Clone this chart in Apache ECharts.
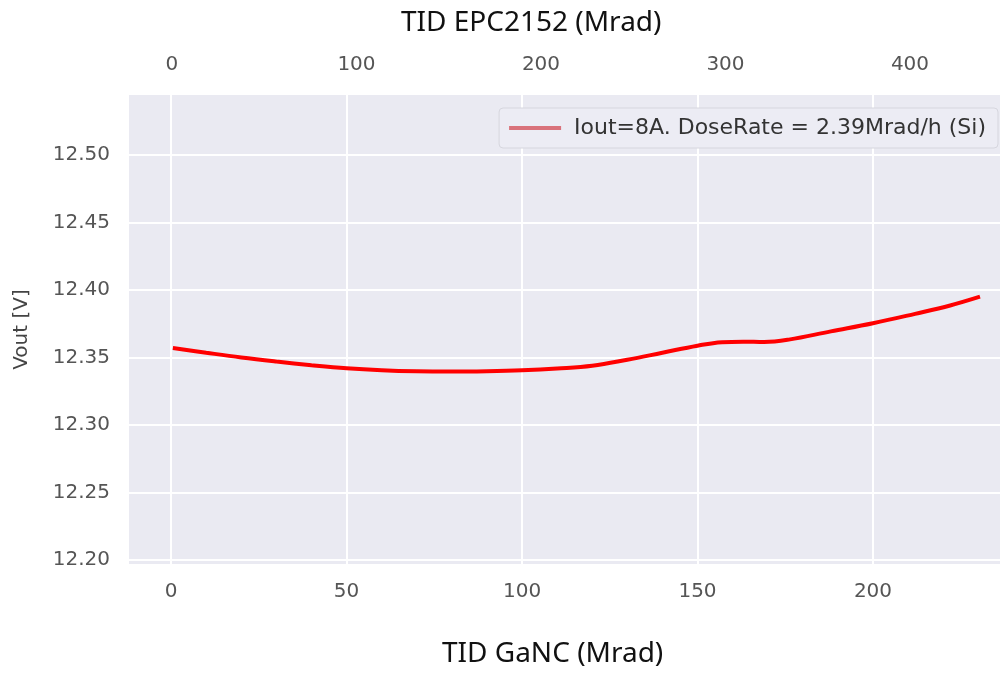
<!DOCTYPE html>
<html>
<head>
<meta charset="utf-8">
<script src="https://cdn.jsdelivr.net/npm/echarts@6/dist/echarts.min.js"></script>
<style>
  html, body { margin: 0; padding: 0; background: #fff; }
  #chart { width: 1007px; height: 682px; }
</style>
</head>
<body>
<div id="chart"></div>
<script>
// data
var doseGaNC = [0.5, 10, 20, 30, 40, 50, 60, 70, 80, 90, 100, 110, 120, 130, 140, 150, 157, 163, 169, 176, 188, 200, 212, 222, 230.5];
var vout = [12.357, 12.3535, 12.350, 12.347, 12.3443, 12.342, 12.3405, 12.3397, 12.3395, 12.3398, 12.3405, 12.3418, 12.3438, 12.3483, 12.3535, 12.3587, 12.3613, 12.3617, 12.3614, 12.3632, 12.3693, 12.3753, 12.3823, 12.3885, 12.395];
var bottomTicks = [0, 50, 100, 150, 200];
var topTicks = [0, 100, 200, 300, 400];
var yTicks = [12.20, 12.25, 12.30, 12.35, 12.40, 12.45, 12.50];
var seriesName = 'Iout=8A. DoseRate = 2.39Mrad/h (Si)';

var chart = echarts.init(document.getElementById('chart'));

var labelStyle = {
  color: '#555',
  fontFamily: 'DejaVu Sans',
  fontSize: 20
};

var titleStyle = { fontFamily: 'Noto Sans', fontSize: 28, fontWeight: 'normal', color: '#111' };

var option = {
  animation: false,
  backgroundColor: '#fff',
  title: [
    { text: 'TID EPC2152 (Mrad)', left: 396, top: 4, textStyle: titleStyle },
    { text: 'TID GaNC (Mrad)', left: 437, top: 635, textStyle: titleStyle }
  ],
  legend: {
    data: [seriesName],
    right: 9, top: 108,
    padding: [9, 12, 9, 10],
    backgroundColor: '#ececf4',
    borderColor: '#d6d6de',
    borderWidth: 1,
    borderRadius: 4,
    icon: 'rect',
    itemWidth: 52,
    itemHeight: 4,
    itemGap: 10,
    itemStyle: { color: '#d9727b' },
    textStyle: { color: '#333', fontFamily: 'DejaVu Sans', fontSize: 22, padding: [0, 0, 0, 8] }
  },
  grid: {
    left: 129, right: 7, top: 95, bottom: 118,
    show: true,
    backgroundColor: '#eaeaf2',
    borderWidth: 0
  },
  xAxis: [
    {
      type: 'value',
      position: 'bottom',
      min: -12, max: 236.2,
      axisLine: { show: false },
      axisTick: { show: false, customValues: bottomTicks },
      axisLabel: Object.assign({ customValues: bottomTicks, margin: 18 }, labelStyle),
      splitLine: { show: true, lineStyle: { color: '#fff', width: 2 } }
    },
    {
      type: 'value',
      position: 'top',
      min: -23.3, max: 448.8,
      axisLine: { show: false },
      axisTick: { show: false, customValues: topTicks },
      axisLabel: Object.assign({ customValues: topTicks, margin: 20 }, labelStyle),
      splitLine: { show: false }
    }
  ],
  yAxis: {
    type: 'value',
    min: 12.197, max: 12.5444,
    name: 'Vout [V]',
    nameLocation: 'middle',
    nameGap: 97,
    nameTextStyle: { color: '#444', fontFamily: 'DejaVu Sans', fontSize: 20 },
    axisLine: { show: false },
    axisTick: { show: false, customValues: yTicks },
    axisLabel: Object.assign({
      customValues: yTicks,
      margin: 19,
      formatter: function (v) { return v.toFixed(2); }
    }, labelStyle),
    splitLine: { show: true, lineStyle: { color: '#fff', width: 2 } }
  },
  series: [
    {
      name: seriesName,
      type: 'line',
      xAxisIndex: 0,
      data: doseGaNC.map(function (x, i) { return [x, vout[i]]; }),
      showSymbol: false,
      symbol: 'none',
      smooth: 0.4,
      lineStyle: { color: '#ff0000', width: 4 },
      itemStyle: { color: '#ff0000' }
    }
  ]
};

chart.setOption(option);
</script>
</body>
</html>
